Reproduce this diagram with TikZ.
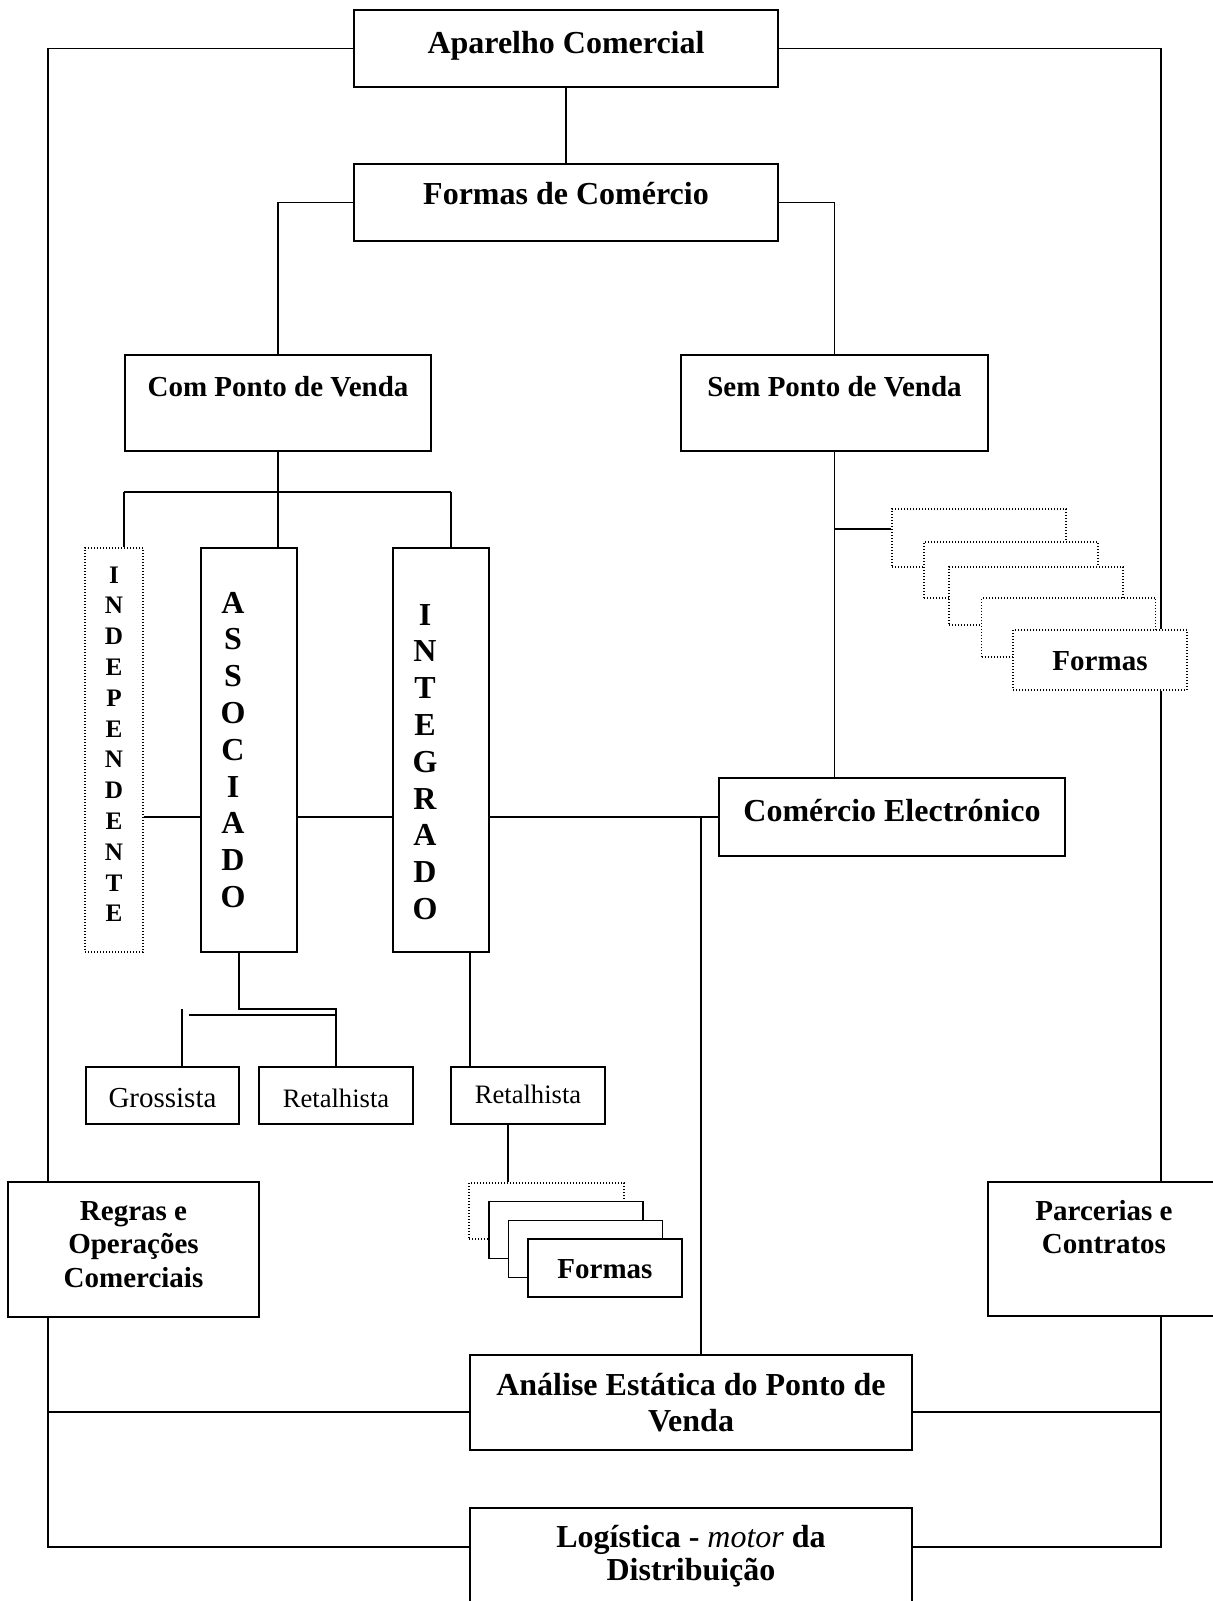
\documentclass[tikz,border=0pt]{standalone}
\usepackage{fontspec}
\setmainfont{Liberation Serif}
\tikzset{
  box/.style={rectangle, draw=black, fill=white, line width=0.7pt, inner sep=0pt,
    font=\bfseries\fontsize{16}{18}\selectfont},
  dotbox/.style={box, line width=0.6pt, dash pattern=on 0.5pt off 1pt},
  midfont/.style={font=\bfseries\fontsize{14.5}{16.75}\selectfont},
  vfont/.style={font=\bfseries\fontsize{16}{18.4}\selectfont},
  link/.style={draw=black, line width=0.7pt},
  % baseline of the first text line, in px below the node centre
  bl/.code={\pgfmathsetlengthmacro\blht{max(0,#1)*1pt}%
    \pgfmathsetlengthmacro\bldp{max(0,-(#1))*1pt}%
    \tikzset{text height=\blht, text depth=\bldp}},
}
\newcommand{\mlines}[1]{\begin{tabular}[t]{@{}c@{}}#1\end{tabular}}

\begin{document}
\begin{tikzpicture}[x=0.5pt, y=-0.5pt]
  \useasboundingbox (0,0) rectangle (1212,1601);

  % top of the tree
  \node[box, minimum width=212pt, minimum height=38.5pt, bl=4.5] (aparelho) at (566,48.5) {Aparelho Comercial};
  \node[box, minimum width=212pt, minimum height=38.5pt, bl=1.5] (formas) at (566,202.5) {Formas de Comércio};
  \node[box, midfont, minimum width=153pt, minimum height=48pt, bl=-7] (compv) at (278,403) {Com Ponto de Venda};
  \node[box, midfont, minimum width=153.5pt, minimum height=48pt, bl=-7] (sempv) at (834.5,403) {Sem Ponto de Venda};

  % com ponto de venda
  \node[dotbox, font=\bfseries\fontsize{12.6}{15.4}\selectfont, minimum width=29pt, minimum height=202pt, bl=-167] (indep) at (114,750)
    {\mlines{I\\N\\D\\E\\P\\E\\N\\D\\E\\N\\T\\E}};
  \node[box, vfont, minimum width=48pt, minimum height=202pt, bl=-137] (assoc) at (249,750)
    {\mlines{A\\S\\S\\O\\C\\I\\A\\D\\O}\hspace*{16pt}};
  \node[box, vfont, minimum width=48pt, minimum height=202pt, bl=-125] (integ) at (441,750)
    {\mlines{I\\N\\T\\E\\G\\R\\A\\D\\O}\hspace*{16pt}};

  \node[box, font=\fontsize{14.5}{17}\selectfont, minimum width=76.5pt, minimum height=28.5pt, bl=11.5] (gross) at (162.5,1095.5) {Grossista};
  \node[box, font=\fontsize{13.3}{16}\selectfont, minimum width=77pt, minimum height=28.5pt, bl=11.5] (retal1) at (336,1095.5) {Retalhista};
  \node[box, font=\fontsize{13.3}{16}\selectfont, minimum width=77pt, minimum height=28.5pt, bl=7.5] (retal2) at (528,1095.5) {Retalhista};

  \node[dotbox, minimum width=77.5pt, minimum height=28pt] (fb1) at (546.5,1211) {};
  \node[box, minimum width=77pt, minimum height=28.5pt] (fb2) at (566,1230) {};
  \node[box, minimum width=77pt, minimum height=28.5pt] (fb3) at (585.5,1249) {};
  \node[box, midfont, minimum width=77pt, minimum height=29pt, bl=10] (fb4) at (605,1268) {Formas};

  % sem ponto de venda
  \node[dotbox, minimum width=87pt, minimum height=29pt] (fr1) at (979,538) {};
  \node[dotbox, minimum width=87pt, minimum height=28pt] (fr2) at (1011,570) {};
  \node[dotbox, minimum width=87pt, minimum height=29pt] (fr3) at (1036,596) {};
  \node[dotbox, minimum width=87pt, minimum height=29.5pt] (fr4) at (1068.5,627.5) {};
  \node[dotbox, midfont, minimum width=87pt, minimum height=30pt, bl=10] (fr5) at (1100,660) {Formas};
  \node[box, minimum width=173pt, minimum height=39pt, bl=4] (comel) at (892,817) {Comércio Electrónico};

  % bottom row
  \node[box, midfont, minimum width=125.5pt, minimum height=67.5pt, bl=-29.5] (regras) at (133.5,1249.5)
    {\mlines{Regras e\\Operações\\Comerciais}};
  \node[box, midfont, minimum width=116pt, minimum height=67pt, bl=-29] (parcerias) at (1104,1249)
    {\mlines{Parcerias e\\Contratos}};
  \node[box, font=\bfseries\fontsize{16}{18.3}\selectfont, minimum width=221pt, minimum height=47.5pt, bl=-7.5] (analise) at (691,1402.5)
    {\mlines{Análise Estática do Ponto de\\Venda}};
  \node[box, font=\bfseries\fontsize{16}{16.5}\selectfont, minimum width=221pt, minimum height=52pt, bl=-13] (logistica) at (691,1560)
    {\mlines{Logística - {\mdseries\itshape motor} da\\Distribuição}};

  % rails and taps
  \coordinate (lrail) at (48,0);
  \coordinate (rrail) at (1161,0);
  \coordinate (midbus) at (0,1412);
  \coordinate (lowbus) at (0,1547);
  \coordinate (ileft) at (124,492);
  \coordinate (iright) at (451,492);
  \coordinate (etap) at (701,817);
  \coordinate (frtap) at (835,529);
  \coordinate (abend) at (239,1009);
  \coordinate (abar) at (189,1015);
  \coordinate (gtop) at (182,1009);
  \coordinate (idrop) at (470,0);
  \coordinate (rdrop) at (508,0);

  \draw[link] (aparelho) -- (formas);
  \draw[link] (formas.west) -| (compv.north);
  \draw[link] (formas.east) -| (sempv.north);

  \draw[link] (aparelho.west) -| (regras.north -| lrail);
  \draw[link] (regras.south -| lrail) |- (logistica.west |- lowbus);
  \draw[link] (analise.west |- midbus) -- (lrail |- midbus);
  \draw[link] (aparelho.east) -| (fr5.north -| rrail);
  \draw[link] (fr5.south -| rrail) -- (parcerias.north -| rrail);
  \draw[link] (parcerias.south -| rrail) |- (logistica.east |- lowbus);
  \draw[link] (analise.east |- midbus) -- (rrail |- midbus);

  \draw[link] (compv.south) -- (compv.south |- assoc.north);
  \draw[link] (ileft) -- (iright);
  \draw[link] (ileft) -- (ileft |- indep.north);
  \draw[link] (iright) -- (iright |- integ.north);
  \draw[link] (indep.east |- comel.west) -- (assoc.west |- comel.west);
  \draw[link] (assoc.east |- comel.west) -- (integ.west |- comel.west);
  \draw[link] (integ.east |- comel.west) -- (comel.west);
  \draw[link] (sempv.south) -- (sempv.south |- comel.north);
  \draw[link] (frtap) -- (frtap -| fr1.west);
  \draw[link] (etap) -- (etap |- analise.north);

  \draw[link] (abend |- assoc.south) -- (abend) -| (retal1.north);
  \draw[link] (abar) -- (abar -| retal1.north);
  \draw[link] (gtop) -- (gtop |- gross.north);
  \draw[link] (integ.south -| idrop) -- (retal2.north -| idrop);
  \draw[link] (retal2.south -| rdrop) -- (fb1.north -| rdrop);
\end{tikzpicture}
\end{document}
